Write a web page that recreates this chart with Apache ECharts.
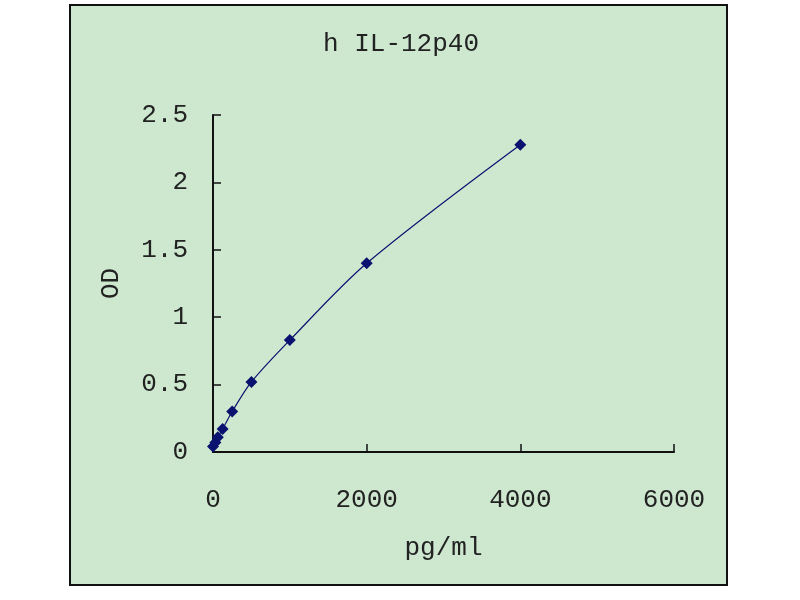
<!DOCTYPE html>
<html>
<head>
<meta charset="utf-8">
<script src="https://cdn.jsdelivr.net/npm/echarts@6/dist/echarts.min.js"></script>
<style>
html,body{margin:0;padding:0;background:#fff;}
#c{width:800px;height:600px;}
</style>
</head>
<body>
<div id="c"></div>
<script>
var concentrations = [0, 31.25, 62.5, 125, 250, 500, 1000, 2000, 4000];
var odValues = [0.04, 0.07, 0.11, 0.17, 0.30, 0.52, 0.83, 1.40, 2.28];
var titleText = 'h IL-12p40';
var xAxisName = 'pg/ml';
var yAxisName = 'OD';

var points = concentrations.map(function(c, i){ return [c, odValues[i]]; });
var font = '"Liberation Mono", "DejaVu Sans Mono", monospace';
var chart = echarts.init(document.getElementById('c'));
chart.setOption({
  backgroundColor: '#ffffff',
  animation: false,
  graphic: [{
    type: 'rect', z: -10,
    shape: {x: 70, y: 5, width: 657, height: 580},
    style: {fill: '#cde8cf', stroke: '#111', lineWidth: 2}
  }],
  title: {
    text: titleText, left: 396, top: 26, textAlign: 'center',
    textStyle: {fontFamily: font, fontSize: 26, fontWeight: 'normal', color: '#222'}
  },
  grid: {left: 213, right: 126, top: 115, bottom: 148},
  xAxis: {
    type: 'value', min: 0, max: 6000, interval: 2000,
    name: xAxisName, nameLocation: 'middle', nameGap: 83,
    nameTextStyle: {fontFamily: font, fontSize: 26, color: '#222'},
    axisLine: {show: true, lineStyle: {color: '#111', width: 2}},
    axisTick: {show: true, inside: true, length: 8, lineStyle: {color: '#111', width: 1.5}},
    axisLabel: {fontFamily: font, fontSize: 26, color: '#222', margin: 35,
      formatter: function(v){ return String(v); }},
    splitLine: {show: false}
  },
  yAxis: {
    type: 'value', min: 0, max: 2.5, interval: 0.5,
    name: yAxisName, nameLocation: 'middle', nameGap: 89, nameRotate: 90,
    nameTextStyle: {fontFamily: font, fontSize: 26, color: '#222'},
    axisLine: {show: true, lineStyle: {color: '#111', width: 2}},
    axisTick: {show: true, inside: true, length: 8, lineStyle: {color: '#111', width: 1.5}},
    axisLabel: {fontFamily: font, fontSize: 26, color: '#222', margin: 25,
      formatter: function(v){ return String(v); }},
    splitLine: {show: false}
  },
  series: [{
    type: 'line', data: points, smooth: 0.3,
    symbol: 'diamond', symbolSize: 12,
    itemStyle: {color: '#0a1270'},
    lineStyle: {color: '#0a1270', width: 1.2}
  }]
});
</script>
</body>
</html>
